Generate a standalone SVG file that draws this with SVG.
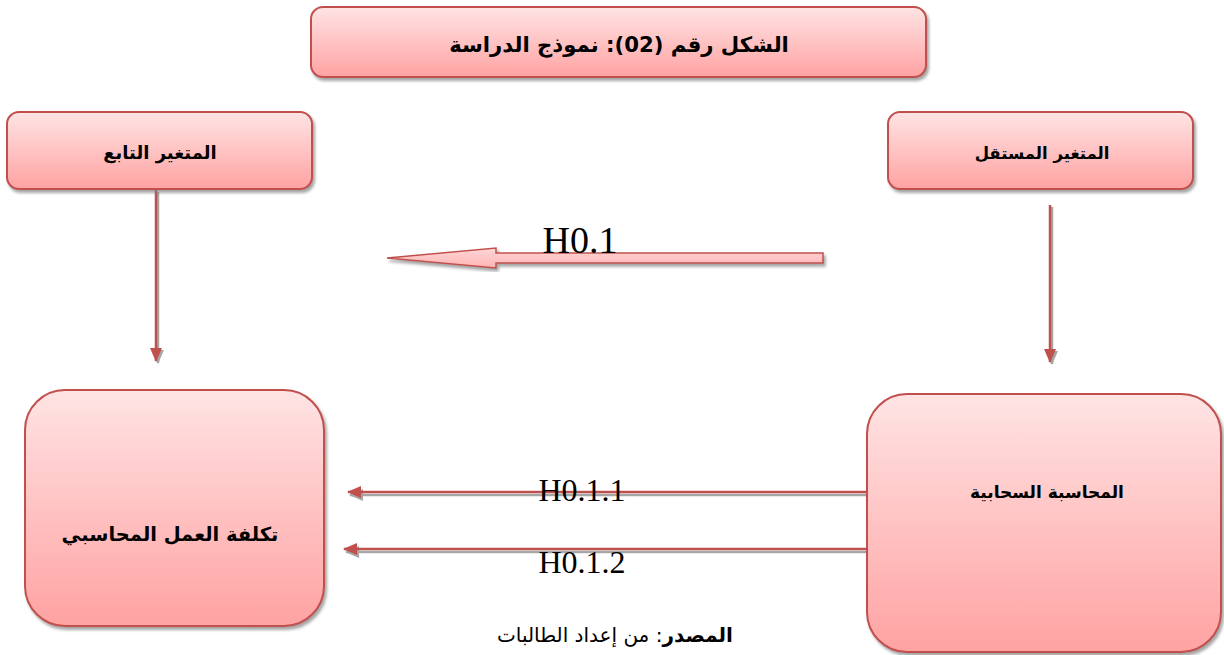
<svg xmlns="http://www.w3.org/2000/svg" width="1224" height="655" viewBox="0 0 1224 655">
<defs>
<linearGradient id="g" x1="0" y1="0" x2="0" y2="1">
<stop offset="0" stop-color="#ffe4e4"/>
<stop offset="1" stop-color="#ffa2a2"/>
</linearGradient>
<linearGradient id="ga" x1="0" y1="0" x2="0" y2="1">
<stop offset="0" stop-color="#ffd6d6"/>
<stop offset="1" stop-color="#ffb4b4"/>
</linearGradient>
<filter id="sh" x="-10%" y="-10%" width="125%" height="130%">
<feDropShadow dx="2" dy="3" stdDeviation="1.5" flood-color="#7f7f7f" flood-opacity="0.7"/>
</filter>
<marker id="ah" viewBox="0 0 14 12" refX="13" refY="6" markerWidth="14" markerHeight="12" markerUnits="userSpaceOnUse" orient="auto">
<path d="M0,0 L14,6 L0,12 Z" fill="#c0504d"/>
</marker>
<marker id="ahs" viewBox="0 0 14 12" refX="13" refY="6" markerWidth="14" markerHeight="12" markerUnits="userSpaceOnUse" orient="auto">
<path d="M0,0 L14,6 L0,12 Z" fill="#a6a6a6"/>
</marker>
</defs>
<style>
.box{fill:url(#g);stroke:#c0504d;stroke-width:2;filter:url(#sh)}
.ar{font-family:"DejaVu Sans",sans-serif;font-weight:bold;fill:#000;direction:rtl;unicode-bidi:embed}
.lat{font-family:"Liberation Serif",serif;fill:#000}
.ln{stroke:#c0504d;stroke-width:2.5;fill:none}
.lns{stroke:#a6a6a6;stroke-width:2.5;fill:none}
</style>

<g id="connectors">
<line class="lns" x1="158" y1="192" x2="158" y2="363" marker-end="url(#ahs)"/>
<line class="ln" x1="156" y1="190" x2="156" y2="361" marker-end="url(#ah)"/>
<line class="lns" x1="1052" y1="207" x2="1052" y2="364" marker-end="url(#ahs)"/>
<line class="ln" x1="1050" y1="205" x2="1050" y2="362" marker-end="url(#ah)"/>
<polygon points="823,253 496,253 496,248 387,258 496,268 496,263 823,263" fill="url(#ga)" stroke="#c0504d" stroke-width="1.5" filter="url(#sh)"/>
<line class="lns" x1="870" y1="495" x2="350" y2="495" marker-end="url(#ahs)"/>
<line class="ln" x1="870" y1="492" x2="348" y2="492" marker-end="url(#ah)"/>
<line class="lns" x1="867" y1="552" x2="346" y2="552" marker-end="url(#ahs)"/>
<line class="ln" x1="867" y1="549" x2="344" y2="549" marker-end="url(#ah)"/>
</g>

<g id="title">
<rect class="box" x="311" y="7" width="615" height="70" rx="12"/>
<text class="ar" x="619" y="52" font-size="21.2" text-anchor="middle">الشكل رقم (02): نموذج الدراسة</text>
</g>

<g id="dependent">
<rect class="box" x="7" y="112" width="305" height="77" rx="12"/>
<text class="ar" x="160" y="159" font-size="18" text-anchor="middle">المتغير التابع</text>
</g>

<g id="independent">
<rect class="box" x="888" y="112" width="305" height="77" rx="12"/>
<text class="ar" x="1042" y="159" font-size="16.5" text-anchor="middle">المتغير المستقل</text>
</g>

<g id="cost">
<rect class="box" x="25" y="390" width="299" height="236" rx="40"/>
<text class="ar" x="170" y="541" font-size="19.5" text-anchor="middle">تكلفة العمل المحاسبي</text>
</g>

<g id="cloud">
<rect class="box" x="867" y="394" width="354" height="258" rx="40"/>
<text class="ar" x="1047" y="498" font-size="17" text-anchor="middle">المحاسبة السحابية</text>
</g>

<g id="labels">
<text class="lat" x="580" y="253" font-size="38" text-anchor="middle">H0.1</text>
<text class="lat" x="582" y="501" font-size="32" text-anchor="middle">H0.1.1</text>
<text class="lat" x="582" y="573" font-size="32" text-anchor="middle">H0.1.2</text>
<text x="615" y="642" font-size="20" text-anchor="middle" style="font-family:'DejaVu Sans',sans-serif;direction:rtl;unicode-bidi:embed"><tspan font-weight="bold">المصدر</tspan>: من إعداد الطالبات</text>
</g>
</svg>
